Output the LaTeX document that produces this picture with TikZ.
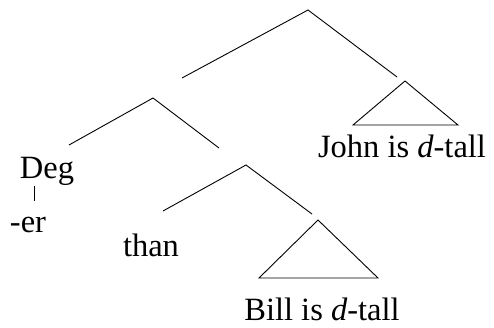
\documentclass[tikz,border=0pt]{standalone}
\usepackage{fontspec}
\setmainfont{Liberation Serif}
\begin{document}
\begin{tikzpicture}[x=1pt,y=-1pt,
  lbl/.style={inner sep=0pt,anchor=base,font=\fontsize{32.5}{38}\selectfont},
  br/.style={line width=0.9pt}]
\useasboundingbox (0,0) rectangle (494,327);
% root
\coordinate (root) at (308,10);
\coordinate (rootL) at (182,78);
\coordinate (rootR) at (397,77);
\draw[br] (rootL) -- (root) -- (rootR);
% John triangle
\coordinate (jA) at (405,81);
\coordinate (jL) at (353,125);
\coordinate (jR) at (458,125);
\draw[br] (jL) -- (jA) -- (jR) -- cycle;
\node[lbl] (john) at (402,157) {John is \textit{d}-tall};
% middle node
\coordinate (mid) at (153,98);
\coordinate (midL) at (69,145);
\coordinate (midR) at (219,148);
\draw[br] (midL) -- (mid) -- (midR);
\node[lbl] (deg) at (47,178) {Deg};
\node[lbl] (er) at (28,232) {-er};
\coordinate (degB) at (34,186);
\coordinate (erT) at (34,201);
\draw[br] (degB) -- (erT);
% lower node
\coordinate (low) at (246,165);
\coordinate (lowL) at (163,211);
\coordinate (lowR) at (312,214);
\draw[br] (lowL) -- (low) -- (lowR);
\node[lbl] (than) at (151,256) {than};
% Bill triangle
\coordinate (bA) at (318,220);
\coordinate (bL) at (259,278);
\coordinate (bR) at (378,278);
\draw[br] (bL) -- (bA) -- (bR) -- cycle;
\node[lbl] (bill) at (322,320) {Bill is \textit{d}-tall};
\end{tikzpicture}
\end{document}
